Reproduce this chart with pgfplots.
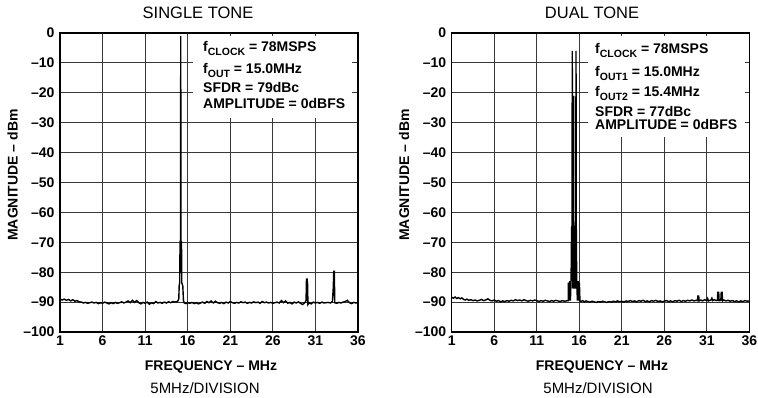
\documentclass[border=0pt]{standalone}
\usepackage{pgfplots}
\usepackage{pgfplotstable}
\pgfplotsset{compat=1.18}
\usepackage{fontspec}
\setmainfont{Liberation Sans}

\pgfplotstableread{
x y
1.00 -89.0
1.25 -89.3
1.50 -89.0
1.75 -89.4
2.00 -89.1
2.25 -89.6
2.50 -89.2
2.75 -89.7
3.00 -89.5
3.25 -89.9
3.50 -90.0
3.75 -90.3
4.00 -90.1
4.25 -90.4
4.50 -90.2
4.75 -90.0
5.00 -90.3
5.25 -90.1
5.50 -90.5
5.75 -90.2
6.00 -90.4
6.25 -90.0
6.50 -90.3
6.75 -90.6
7.00 -90.2
7.25 -90.5
7.50 -90.1
7.75 -90.4
8.00 -90.2
8.25 -89.9
8.50 -90.3
8.75 -90.0
9.00 -89.6
9.25 -90.2
9.50 -89.4
9.75 -90.1
10.00 -89.5
10.25 -90.2
10.50 -90.6
10.75 -90.1
11.00 -90.4
11.25 -90.0
11.50 -90.7
11.75 -90.2
12.00 -90.5
12.25 -89.8
12.50 -90.3
12.75 -90.1
13.00 -90.4
13.25 -90.0
13.50 -90.3
13.75 -89.9
14.00 -90.2
14.25 -89.8
14.50 -90.0
14.80 -89.8
14.95 -89.0
15.00 -84.5
15.06 -83.5
15.10 -70.0
15.13 -69.5
15.16 -70.0
15.18 -1.0
15.21 -69.5
15.24 -70.0
15.27 -69.5
15.30 -83.5
15.42 -84.5
15.50 -89.5
15.60 -90.3
15.80 -90.5
16.00 -90.2
16.25 -90.4
16.50 -90.1
16.75 -90.5
17.00 -90.2
17.25 -90.6
17.50 -90.3
17.75 -90.0
18.00 -90.4
18.25 -89.8
18.50 -90.2
18.75 -89.6
19.00 -90.3
19.25 -89.7
19.50 -90.2
19.75 -90.4
20.00 -90.1
20.25 -90.5
20.50 -90.0
20.75 -90.3
21.00 -89.8
21.25 -90.2
21.50 -90.4
21.75 -90.1
22.00 -90.3
22.25 -89.9
22.50 -90.2
22.75 -90.0
23.00 -90.4
23.25 -90.1
23.50 -90.3
23.75 -89.9
24.00 -90.2
24.25 -90.0
24.50 -90.4
24.75 -89.8
25.00 -90.2
25.25 -90.0
25.50 -90.3
25.75 -90.1
26.00 -90.4
26.25 -90.2
26.50 -90.0
26.75 -90.3
27.00 -89.5
27.25 -90.2
27.50 -89.6
27.75 -90.4
28.00 -90.1
28.25 -90.6
28.50 -90.0
28.75 -90.3
29.00 -89.9
29.25 -90.4
29.50 -90.8
29.75 -90.2
29.90 -89.5
29.95 -82.3
30.02 -82.3
30.08 -84.0
30.12 -90.8
30.25 -90.2
30.50 -90.6
30.75 -90.0
31.00 -90.3
31.25 -90.1
31.50 -90.4
31.75 -90.0
32.00 -90.3
32.25 -90.2
32.50 -90.1
32.75 -90.3
33.00 -89.8
33.10 -85.0
33.15 -79.7
33.22 -79.7
33.27 -90.2
33.50 -90.4
33.75 -90.1
34.00 -90.3
34.25 -90.0
34.50 -89.8
34.75 -89.4
35.00 -90.2
35.25 -90.5
35.50 -90.1
35.75 -90.3
36.00 -90.2
}\singletone

\pgfplotstableread{
x y
1.00 -88.4
1.20 -88.7
1.40 -88.3
1.60 -88.8
1.80 -88.5
2.00 -88.9
2.20 -88.6
2.40 -89.1
2.60 -89.3
2.80 -89.0
3.00 -89.4
3.25 -89.2
3.50 -89.5
3.75 -89.3
4.00 -89.6
4.25 -89.4
4.50 -89.1
4.75 -89.5
5.00 -89.3
5.25 -88.9
5.50 -89.4
5.75 -89.6
6.00 -89.3
6.25 -89.7
6.50 -89.5
6.75 -89.9
7.00 -89.6
7.25 -89.8
7.50 -89.5
7.75 -89.7
8.00 -89.4
8.25 -89.6
8.50 -89.2
8.75 -89.5
9.00 -89.3
9.25 -89.6
9.50 -89.2
9.75 -89.5
10.00 -89.7
10.25 -89.4
10.50 -89.6
10.75 -89.3
11.00 -89.5
11.25 -89.8
11.50 -89.5
11.75 -89.7
12.00 -89.4
12.25 -89.6
12.50 -89.8
12.75 -89.5
13.00 -89.7
13.25 -89.4
13.50 -89.6
13.75 -89.8
14.00 -89.5
14.25 -89.7
14.50 -89.6
14.65 -89.5
14.70 -89.5
14.72 -83.5
14.80 -89.5
14.88 -83.0
14.96 -89.5
15.04 -82.5
15.10 -65.0
15.15 -64.5
15.18 -6.0
15.21 -64.5
15.26 -85.5
15.30 -64.0
15.33 -21.0
15.36 -64.0
15.42 -85.5
15.48 -64.5
15.55 -85.5
15.59 -64.5
15.62 -6.0
15.65 -64.5
15.70 -82.5
15.78 -89.5
15.86 -83.0
15.94 -89.5
16.02 -83.5
16.08 -89.5
16.20 -89.8
16.40 -89.5
16.60 -89.9
16.80 -89.6
17.00 -89.8
17.25 -90.0
17.50 -89.7
17.75 -89.9
18.00 -90.1
18.25 -89.8
18.50 -90.0
18.75 -89.7
19.00 -89.9
19.25 -90.1
19.50 -89.8
19.75 -90.0
20.00 -89.7
20.25 -89.9
20.50 -89.6
20.75 -89.9
21.00 -89.7
21.25 -90.0
21.50 -89.6
21.75 -89.8
22.00 -89.5
22.25 -89.8
22.50 -89.6
22.75 -89.9
23.00 -89.5
23.25 -89.7
23.50 -89.4
23.75 -89.8
24.00 -89.6
24.25 -89.9
24.50 -89.5
24.75 -89.7
25.00 -89.4
25.25 -89.8
25.50 -89.6
25.75 -89.9
26.00 -89.7
26.25 -89.5
26.50 -89.8
26.75 -89.6
27.00 -89.9
27.25 -89.5
27.50 -89.7
27.75 -89.4
28.00 -89.8
28.25 -89.5
28.50 -89.7
28.75 -89.4
29.00 -89.6
29.25 -89.3
29.50 -89.6
29.75 -89.4
29.90 -89.5
29.95 -88.0
30.05 -88.0
30.10 -89.6
30.30 -89.3
30.50 -89.6
30.75 -89.2
31.00 -89.5
31.10 -88.8
31.20 -89.6
31.50 -89.3
31.60 -88.7
31.70 -89.5
31.90 -89.2
32.10 -89.5
32.25 -89.4
32.30 -86.7
32.40 -86.7
32.45 -89.5
32.65 -89.4
32.70 -86.7
32.80 -86.7
32.85 -89.6
33.00 -89.3
33.25 -89.6
33.50 -89.4
33.75 -89.7
34.00 -89.5
34.25 -89.8
34.50 -89.6
34.75 -89.9
35.00 -89.6
35.25 -89.8
35.50 -89.5
35.75 -89.7
36.00 -89.6
}\dualtone

\pgfplotsset{
  spec/.style={
    scale only axis, height=299pt, anchor=south west,
    xmin=1, xmax=36, ymin=-100, ymax=0,
    xtick={1,6,11,16,21,26,31,36},
    xticklabels={1,6,11,16,21,26,31,36},
    ytick={-100,-90,-80,-70,-60,-50,-40,-30,-20,-10,0},
    yticklabels={–100,–90,–80,–70,–60,–50,–40,–30,–20,–10,0},
    grid=major,
    major grid style={black!78, line width=0.9pt},
    axis line style={line width=1.4pt},
    major tick length=0pt,
    tick label style={font=\fontsize{14}{14}\selectfont\bfseries},
    yticklabel style={xshift=-2pt},
  },
  trace/.style={black, line width=1.4pt, no markers},
}

\newcommand{\sub}[1]{\raisebox{-4pt}{\fontsize{10.5}{10.5}\selectfont #1}}

\begin{document}
\begin{tikzpicture}[x=1pt,y=1pt]
\path[use as bounding box] (0pt,0pt) rectangle (758pt,397pt);

\begin{axis}[spec, at={(60pt,65pt)}, width=298pt]
\addplot[trace] table[x=x,y=y] {\singletone};
\end{axis}

\begin{axis}[spec, at={(451.7pt,65pt)}, width=297.6pt]
\addplot[trace] table[x=x,y=y] {\dualtone};
\end{axis}

% annotation boxes
\fill[white] (193pt,279pt) rectangle (352pt,361pt);
\fill[white] (588pt,260pt) rectangle (745pt,361pt);

\begin{scope}[every node/.style={anchor=base west, inner sep=0pt, font=\fontsize{14}{14}\selectfont\bfseries}]
\node at (203pt,345.3pt) {f\sub{CLOCK} = 78MSPS};
\node at (203pt,323pt) {f\sub{OUT} = 15.0MHz};
\node at (203pt,304pt) {SFDR = 79dBc};
\node at (203pt,288pt) {AMPLITUDE = 0dBFS};

\node at (595pt,343pt) {f\sub{CLOCK} = 78MSPS};
\node at (595pt,320.3pt) {f\sub{OUT1} = 15.0MHz};
\node at (595pt,300.3pt) {f\sub{OUT2} = 15.4MHz};
\node at (595pt,280pt) {SFDR = 77dBc};
\node at (595pt,267pt) {AMPLITUDE = 0dBFS};
\end{scope}

% titles
\node[font=\fontsize{16.5}{16.5}\selectfont] at (198pt,384pt) {SINGLE TONE};
\node[font=\fontsize{16.5}{16.5}\selectfont] at (592pt,384pt) {DUAL TONE};

% x labels
\node[anchor=base, font=\fontsize{14}{14}\selectfont\bfseries] at (211pt,27pt) {FREQUENCY – MHz};
\node[anchor=base, font=\fontsize{14}{14}\selectfont\bfseries] at (602pt,27pt) {FREQUENCY – MHz};

% y labels
\node[rotate=90, font=\fontsize{14}{14}\selectfont\bfseries] at (12.5pt,222pt) {MAGNITUDE – dBm};
\node[rotate=90, font=\fontsize{14}{14}\selectfont\bfseries] at (404pt,222pt) {MAGNITUDE – dBm};

% subtitles
\node[anchor=base, font=\fontsize{15}{15}\selectfont] at (205pt,4pt) {5MHz/DIVISION};
\node[anchor=base, font=\fontsize{15}{15}\selectfont] at (598pt,4pt) {5MHz/DIVISION};
\end{tikzpicture}
\end{document}
